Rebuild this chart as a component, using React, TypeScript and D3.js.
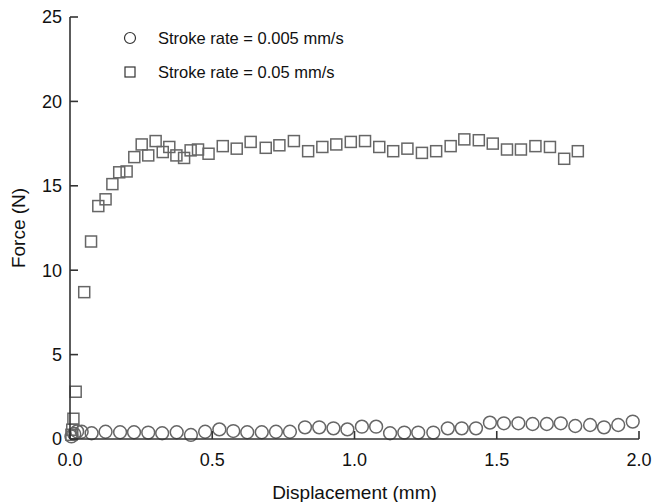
import React from "react";
import * as d3 from "d3";

// Force–displacement readings for two stroke rates
const slowDisp = [0.005, 0.015, 0.025, 0.041, 0.076, 0.125, 0.176, 0.225, 0.275, 0.324, 0.375, 0.425, 0.475, 0.525, 0.574, 0.623, 0.674, 0.724, 0.773, 0.826, 0.876, 0.926, 0.975, 1.026, 1.076, 1.125, 1.175, 1.224, 1.277, 1.328, 1.377, 1.427, 1.476, 1.525, 1.576, 1.626, 1.676, 1.725, 1.776, 1.828, 1.877, 1.927, 1.978];
const slowForce = [0.15, 0.3, 0.45, 0.43, 0.34, 0.43, 0.4, 0.4, 0.38, 0.34, 0.4, 0.24, 0.43, 0.57, 0.47, 0.4, 0.4, 0.43, 0.43, 0.69, 0.69, 0.63, 0.57, 0.73, 0.73, 0.34, 0.38, 0.38, 0.38, 0.63, 0.63, 0.63, 0.97, 0.93, 0.93, 0.89, 0.89, 0.93, 0.77, 0.83, 0.69, 0.83, 1.03];

const fastDisp = [0.005, 0.008, 0.012, 0.02, 0.05, 0.074, 0.0995, 0.125, 0.149, 0.173, 0.199, 0.226, 0.252, 0.275, 0.301, 0.326, 0.349, 0.374, 0.401, 0.424, 0.45, 0.487, 0.537, 0.586, 0.635, 0.688, 0.736, 0.787, 0.837, 0.887, 0.936, 0.987, 1.037, 1.087, 1.136, 1.186, 1.237, 1.287, 1.338, 1.386, 1.437, 1.486, 1.536, 1.585, 1.636, 1.687, 1.737, 1.785];
const fastForce = [0.25, 0.55, 1.2, 2.8, 8.7, 11.7, 13.8, 14.2, 15.1, 15.8, 15.85, 16.7, 17.45, 16.8, 17.65, 17.0, 17.3, 16.8, 16.65, 17.1, 17.15, 16.9, 17.35, 17.2, 17.6, 17.25, 17.4, 17.65, 17.05, 17.3, 17.45, 17.6, 17.65, 17.3, 17.05, 17.2, 16.95, 17.05, 17.35, 17.75, 17.7, 17.5, 17.15, 17.15, 17.35, 17.3, 16.6, 17.05];

const xTicks = [0, 0.5, 1.0, 1.5, 2.0];
const yTicks = [0, 5, 10, 15, 20, 25];

const legendLabels = ["Stroke rate = 0.005 mm/s", "Stroke rate = 0.05 mm/s"];

const W = 656;
const H = 502;
const left = 70;
const right = 639;
const top = 17;
const bottom = 439;

export default function App() {
  const x = d3.scaleLinear().domain([0, 2]).range([left, right]);
  const y = d3.scaleLinear().domain([0, 25]).range([bottom, top]);

  const font = "'Liberation Sans', Arial, sans-serif";
  const axisColor = "#333";
  const markColor = "#666";
  const textColor = "#111";
  const tickLen = 8;
  const sq = 11;

  return (
    <svg
      width={W}
      height={H}
      style={{ position: "absolute", left: 0, top: 0, background: "#fff" }}
      fontFamily={font}
    >
      {/* square markers */}
      {fastDisp.map((d, i) => (
        <rect
          key={"s" + i}
          x={x(d) - sq / 2}
          y={y(fastForce[i]) - sq / 2}
          width={sq}
          height={sq}
          fill="none"
          stroke={markColor}
          strokeWidth={1.5}
        />
      ))}
      {/* circle markers */}
      {slowDisp.map((d, i) => (
        <circle
          key={"c" + i}
          cx={x(d)}
          cy={y(slowForce[i])}
          r={6.4}
          fill="none"
          stroke={markColor}
          strokeWidth={1.5}
        />
      ))}

      {/* axes */}
      <line x1={left} x2={left} y1={top} y2={bottom} stroke={axisColor} strokeWidth={1.6} />
      <line x1={left} x2={right} y1={bottom} y2={bottom} stroke={axisColor} strokeWidth={1.6} />
      {yTicks.map((t) => (
        <g key={"yt" + t}>
          <line x1={left} x2={left + tickLen} y1={y(t)} y2={y(t)} stroke={axisColor} strokeWidth={1.6} />
          <text x={left - 8} y={y(t)} dy="0.35em" textAnchor="end" fontSize={18} fill={textColor}>
            {t}
          </text>
        </g>
      ))}
      {xTicks.map((t) => (
        <g key={"xt" + t}>
          <line x1={x(t)} x2={x(t)} y1={bottom} y2={bottom - tickLen} stroke={axisColor} strokeWidth={1.6} />
          <text x={x(t)} y={bottom + 21} dy="0.35em" textAnchor="middle" fontSize={18} fill={textColor}>
            {d3.format(".1f")(t)}
          </text>
        </g>
      ))}

      {/* axis titles */}
      <text x={(left + right) / 2} y={492} dy="0.35em" textAnchor="middle" fontSize={19} fill={textColor}>
        Displacement (mm)
      </text>
      <text
        transform={`translate(18, ${(top + bottom) / 2}) rotate(-90)`}
        textAnchor="middle"
        dy="0.35em"
        fontSize={19}
        fill={textColor}
      >
        Force (N)
      </text>

      {/* legend */}
      <circle cx={130} cy={38} r={5.5} fill="none" stroke="#333" strokeWidth={1.2} />
      <text x={158} y={38} dy="0.35em" fontSize={16.5} fill={textColor}>
        {legendLabels[0]}
      </text>
      <rect x={125} y={67} width={10} height={10} fill="none" stroke="#333" strokeWidth={1.2} />
      <text x={158} y={72} dy="0.35em" fontSize={16.5} fill={textColor}>
        {legendLabels[1]}
      </text>
    </svg>
  );
}
